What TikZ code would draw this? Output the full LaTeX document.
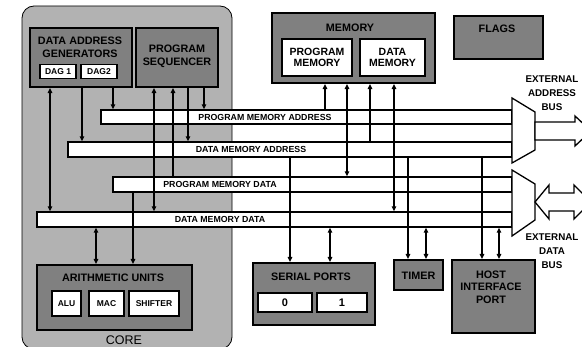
\documentclass[tikz,border=0pt]{standalone}
\usepackage{fontspec}
\setmainfont{Liberation Sans}
\usetikzlibrary{arrows.meta}
\begin{document}
\begin{tikzpicture}[x=1pt,y=-1pt,
  corebox/.style={draw=black, line width=0.8pt, fill=black!30, rounded corners=12pt, inner sep=0pt},
  unit/.style={draw=black, line width=2.2pt, fill=black!50, inner sep=0pt},
  sub/.style={draw=black, line width=1.8pt, fill=white, inner sep=0pt, font=\bfseries\fontsize{8.5}{9}\selectfont},
  busbar/.style={draw=black, line width=1.4pt, fill=white, inner sep=0pt},
  buslabel/.style={font=\bfseries\fontsize{8.8}{9}\selectfont, inner sep=0pt},
  ttl/.style={font=\bfseries\fontsize{10.8}{12.5}\selectfont, align=center, inner sep=0pt},
  extlabel/.style={font=\bfseries\fontsize{9.8}{14}\selectfont, align=center, inner sep=0pt},
  muxshape/.style={draw=black, line width=1.3pt, fill=white},
  bigarrow/.style={draw=black, line width=1.3pt, fill=white, line join=miter},
  conn/.style={line width=1.2pt, -{Triangle[length=5pt,width=4.5pt]}},
  bconn/.style={line width=1.2pt, {Triangle[length=5pt,width=4.5pt]}-{Triangle[length=5pt,width=4.5pt]}},
]
\useasboundingbox (0,0) rectangle (582,347);
\clip (0,0) rectangle (582,347);
\fill[white] (0,0) rectangle (582,347);

% core
\node[corebox, minimum width=210pt, minimum height=343pt] (core) at (127,177.5) {};
\node[font=\fontsize{12.5}{13}\selectfont, inner sep=0pt] (corelbl) at (124,340) {CORE};

% units in the core
\node[unit, minimum width=102pt, minimum height=59pt] (dag) at (81,57.5) {};
\node[ttl] (dagt) at (80,47.5) {DATA ADDRESS\\GENERATORS};
\node[sub, minimum width=36pt, minimum height=14pt] (dag1) at (58,71.5) {DAG 1};
\node[sub, minimum width=36pt, minimum height=14pt] (dag2) at (99,71.5) {DAG2};

\node[unit, minimum width=82pt, minimum height=59pt] (seq) at (177,57.5) {};
\node[ttl] (seqt) at (177,56.5) {PROGRAM\\SEQUENCER};

\node[unit, minimum width=155pt, minimum height=65pt] (arith) at (114.5,297.5) {};
\node[ttl] (aritht) at (113,278) {ARITHMETIC UNITS};
\node[sub, minimum width=29pt, minimum height=25pt] (alu) at (66.5,303.5) {ALU};
\node[sub, minimum width=35pt, minimum height=25pt] (mac) at (106.5,303.5) {MAC};
\node[sub, minimum width=50pt, minimum height=25pt] (shifter) at (154,303.5) {SHIFTER};

% memory and flags
\node[unit, minimum width=163pt, minimum height=70pt] (mem) at (353.5,48) {};
\node[ttl] (memt) at (350,28) {MEMORY};
\node[sub, font=\bfseries\fontsize{10.5}{11.5}\selectfont, align=center, minimum width=70pt, minimum height=37pt] (pm) at (317,57.5) {PROGRAM\\MEMORY};
\node[sub, font=\bfseries\fontsize{10.5}{11.5}\selectfont, align=center, minimum width=65pt, minimum height=37pt] (dm) at (392.5,57.5) {DATA\\MEMORY};

\node[unit, minimum width=89pt, minimum height=43pt] (flags) at (498.5,37.5) {};
\node[ttl] (flagst) at (497,29) {FLAGS};

% peripherals
\node[unit, minimum width=122pt, minimum height=62pt] (serial) at (314,294) {};
\node[ttl] (serialt) at (311,277) {SERIAL PORTS};
\node[sub, font=\bfseries\fontsize{11}{12}\selectfont, minimum width=54pt, minimum height=19pt] (sp0) at (285,302.5) {0};
\node[sub, font=\bfseries\fontsize{11}{12}\selectfont, minimum width=50pt, minimum height=19pt] (sp1) at (342,302.5) {1};

\node[unit, minimum width=49pt, minimum height=30pt] (timer) at (418.5,275) {};
\node[ttl] (timert) at (418.5,276) {TIMER};

\node[unit, minimum width=83pt, minimum height=73pt] (hip) at (493.5,296.5) {};
\node[ttl] (hipt) at (491,287) {HOST\\INTERFACE\\PORT};

% buses
\node[busbar, minimum width=411pt, minimum height=14pt] (pma) at (306.5,117) {};
\node[busbar, minimum width=444pt, minimum height=15pt] (dma) at (290,149.5) {};
\node[busbar, minimum width=399pt, minimum height=15pt] (pmd) at (312.5,184.5) {};
\node[busbar, minimum width=475pt, minimum height=15pt] (dmd) at (274.5,219.5) {};

% multiplexers
\draw[muxshape] (512,98) coordinate (amuxA) -- (535,112) -- (535,150) -- (512,163) -- cycle;
\draw[muxshape] (512,170) coordinate (dmuxA) -- (535,184) -- (535,220) -- (512,236) -- cycle;
\coordinate (amuxR) at (535,131);
\coordinate (dmuxR) at (535,202);

% external bus arrows
\draw[bigarrow] (amuxR |- 0,122) -- (575,122) -- (575,116) -- (591,131) -- (575,146) -- (575,140) -- (amuxR |- 0,140) -- cycle;
\draw[bigarrow] (dmuxR) -- (549,185) -- (549,193) -- (574,193) -- (574,185) -- (591,202) -- (574,219) -- (574,211) -- (549,211) -- (549,219) -- cycle;

% connectors in the core
\draw[bconn] (dag.south -| 50,0) -- (dmd.north -| 50,0);
\draw[conn] (dag.south -| 82,0) -- (dma.north -| 82,0);
\draw[conn] (dag.south -| 113,0) -- (pma.north -| 113,0);
\draw[bconn] (seq.south -| 154,0) -- (dmd.north -| 154,0);
\draw[conn] (pmd.north -| 173,0) -- (seq.south -| 173,0);
\draw[conn] (seq.south -| 188,0) -- (dma.north -| 188,0);
\draw[conn] (seq.south -| 204,0) -- (pma.north -| 204,0);
\draw[bconn] (dmd.south -| 96,0) -- (arith.north -| 96,0);
\draw[conn] (pmd.south -| 133,0) -- (arith.north -| 133,0);

% connectors to memory
\draw[conn] (pma.north -| 325,0) -- (mem.south -| 325,0);
\draw[bconn] (pmd.north -| 347,0) -- (mem.south -| 347,0);
\draw[conn] (dma.north -| 370,0) -- (mem.south -| 370,0);
\draw[bconn] (dmd.north -| 394,0) -- (mem.south -| 394,0);

% connectors to peripherals
\draw[conn] (dma.south -| 290,0) -- (serial.north -| 290,0);
\draw[bconn] (dmd.south -| 330,0) -- (serial.north -| 330,0);
\draw[conn] (dma.south -| 408,0) -- (timer.north -| 408,0);
\draw[bconn] (dmd.south -| 426,0) -- (timer.north -| 426,0);
\draw[conn] (dma.south -| 482,0) -- (hip.north -| 482,0);
\draw[bconn] (dmd.south -| 499,0) -- (hip.north -| 499,0);

% bus labels
\node[buslabel] (pmal) at (265,117) {PROGRAM MEMORY ADDRESS};
\node[buslabel] (dmal) at (251,149.5) {DATA MEMORY ADDRESS};
\node[buslabel] (pmdl) at (220,184.5) {PROGRAM MEMORY DATA};
\node[buslabel] (dmdl) at (220,219.5) {DATA MEMORY DATA};

% external labels
\node[extlabel] (extaddr) at (552,93) {EXTERNAL\\ADDRESS\\BUS};
\node[extlabel] (extdata) at (552,251) {EXTERNAL\\DATA\\BUS};
\end{tikzpicture}
\end{document}
